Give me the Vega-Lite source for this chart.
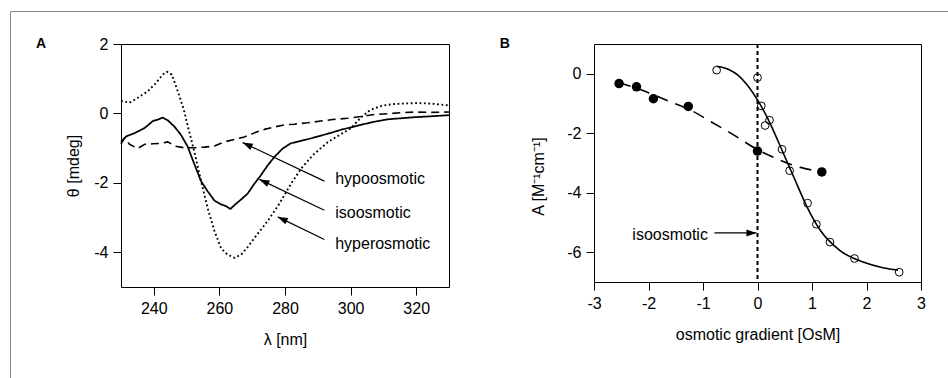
{
  "$schema": "https://vega.github.io/schema/vega-lite/v6.json",
  "background": "white",
  "padding": {"left": 9, "top": 10, "right": 0, "bottom": 0},
  "autosize": {"type": "pad"},
  "bounds": "flush",
  "spacing": 145,
  "config": {
    "font": "Liberation Sans",
    "view": {"stroke": "black", "strokeWidth": 1},
    "axis": {
      "domain": false, "grid": false, "ticks": true,
      "tickColor": "black", "tickSize": 8, "tickWidth": 1,
      "labelColor": "black", "labelFont": "Liberation Sans", "labelFontSize": 16, "labelPadding": 4,
      "labelFlush": false, "labelOverlap": false,
      "titleFont": "Liberation Sans", "titleFontSize": 16, "titleFontWeight": "normal", "titleColor": "black",
      "labelExpr": "datum.value < 0 ? '-' + abs(datum.value) : '' + datum.value"
    },
    "axisX": {"titlePadding": 15},
    "axisY": {"titlePadding": 12}
  },
  "datasets": {
    "spectra": [
      {"wavelength": 230, "theta": -0.82, "condition": "isoosmotic"},
      {"wavelength": 231.6, "theta": -0.66, "condition": "isoosmotic"},
      {"wavelength": 234.1, "theta": -0.57, "condition": "isoosmotic"},
      {"wavelength": 237.2, "theta": -0.42, "condition": "isoosmotic"},
      {"wavelength": 239.7, "theta": -0.22, "condition": "isoosmotic"},
      {"wavelength": 241.2, "theta": -0.18, "condition": "isoosmotic"},
      {"wavelength": 242.7, "theta": -0.12, "condition": "isoosmotic"},
      {"wavelength": 244.3, "theta": -0.20, "condition": "isoosmotic"},
      {"wavelength": 246.3, "theta": -0.38, "condition": "isoosmotic"},
      {"wavelength": 248.3, "theta": -0.62, "condition": "isoosmotic"},
      {"wavelength": 250.3, "theta": -0.95, "condition": "isoosmotic"},
      {"wavelength": 252.4, "theta": -1.47, "condition": "isoosmotic"},
      {"wavelength": 254.4, "theta": -1.95, "condition": "isoosmotic"},
      {"wavelength": 256.4, "theta": -2.24, "condition": "isoosmotic"},
      {"wavelength": 258.5, "theta": -2.51, "condition": "isoosmotic"},
      {"wavelength": 260.5, "theta": -2.62, "condition": "isoosmotic"},
      {"wavelength": 262.0, "theta": -2.67, "condition": "isoosmotic"},
      {"wavelength": 263.4, "theta": -2.75, "condition": "isoosmotic"},
      {"wavelength": 264.6, "theta": -2.64, "condition": "isoosmotic"},
      {"wavelength": 266.6, "theta": -2.48, "condition": "isoosmotic"},
      {"wavelength": 268.6, "theta": -2.31, "condition": "isoosmotic"},
      {"wavelength": 270.7, "theta": -2.02, "condition": "isoosmotic"},
      {"wavelength": 272.5, "theta": -1.80, "condition": "isoosmotic"},
      {"wavelength": 274.7, "theta": -1.50, "condition": "isoosmotic"},
      {"wavelength": 276.8, "theta": -1.25, "condition": "isoosmotic"},
      {"wavelength": 279.3, "theta": -1.01, "condition": "isoosmotic"},
      {"wavelength": 281.8, "theta": -0.86, "condition": "isoosmotic"},
      {"wavelength": 284.9, "theta": -0.79, "condition": "isoosmotic"},
      {"wavelength": 287.9, "theta": -0.72, "condition": "isoosmotic"},
      {"wavelength": 290.9, "theta": -0.64, "condition": "isoosmotic"},
      {"wavelength": 294.0, "theta": -0.56, "condition": "isoosmotic"},
      {"wavelength": 297.1, "theta": -0.47, "condition": "isoosmotic"},
      {"wavelength": 300.1, "theta": -0.40, "condition": "isoosmotic"},
      {"wavelength": 303.1, "theta": -0.33, "condition": "isoosmotic"},
      {"wavelength": 307.2, "theta": -0.24, "condition": "isoosmotic"},
      {"wavelength": 311.3, "theta": -0.17, "condition": "isoosmotic"},
      {"wavelength": 315.3, "theta": -0.14, "condition": "isoosmotic"},
      {"wavelength": 319.4, "theta": -0.11, "condition": "isoosmotic"},
      {"wavelength": 325, "theta": -0.08, "condition": "isoosmotic"},
      {"wavelength": 330, "theta": -0.05, "condition": "isoosmotic"},

      {"wavelength": 230, "theta": 0.36, "condition": "hyperosmotic"},
      {"wavelength": 232.6, "theta": 0.31, "condition": "hyperosmotic"},
      {"wavelength": 235.1, "theta": 0.45, "condition": "hyperosmotic"},
      {"wavelength": 238.2, "theta": 0.64, "condition": "hyperosmotic"},
      {"wavelength": 240.7, "theta": 0.88, "condition": "hyperosmotic"},
      {"wavelength": 242.7, "theta": 1.12, "condition": "hyperosmotic"},
      {"wavelength": 244.0, "theta": 1.20, "condition": "hyperosmotic"},
      {"wavelength": 245.5, "theta": 1.12, "condition": "hyperosmotic"},
      {"wavelength": 247.3, "theta": 0.64, "condition": "hyperosmotic"},
      {"wavelength": 249.0, "theta": 0.16, "condition": "hyperosmotic"},
      {"wavelength": 250.6, "theta": -0.45, "condition": "hyperosmotic"},
      {"wavelength": 252.4, "theta": -1.12, "condition": "hyperosmotic"},
      {"wavelength": 254.4, "theta": -1.95, "condition": "hyperosmotic"},
      {"wavelength": 256.4, "theta": -2.72, "condition": "hyperosmotic"},
      {"wavelength": 258.5, "theta": -3.39, "condition": "hyperosmotic"},
      {"wavelength": 260.5, "theta": -3.88, "condition": "hyperosmotic"},
      {"wavelength": 262.5, "theta": -4.07, "condition": "hyperosmotic"},
      {"wavelength": 264.6, "theta": -4.16, "condition": "hyperosmotic"},
      {"wavelength": 266.6, "theta": -4.07, "condition": "hyperosmotic"},
      {"wavelength": 268.6, "theta": -3.85, "condition": "hyperosmotic"},
      {"wavelength": 271.0, "theta": -3.55, "condition": "hyperosmotic"},
      {"wavelength": 274.7, "theta": -3.10, "condition": "hyperosmotic"},
      {"wavelength": 278.3, "theta": -2.60, "condition": "hyperosmotic"},
      {"wavelength": 281.8, "theta": -2.03, "condition": "hyperosmotic"},
      {"wavelength": 285.0, "theta": -1.58, "condition": "hyperosmotic"},
      {"wavelength": 288.5, "theta": -1.20, "condition": "hyperosmotic"},
      {"wavelength": 293.0, "theta": -0.83, "condition": "hyperosmotic"},
      {"wavelength": 297.0, "theta": -0.60, "condition": "hyperosmotic"},
      {"wavelength": 300.1, "theta": -0.43, "condition": "hyperosmotic"},
      {"wavelength": 303.1, "theta": -0.12, "condition": "hyperosmotic"},
      {"wavelength": 306.0, "theta": 0.10, "condition": "hyperosmotic"},
      {"wavelength": 309.5, "theta": 0.22, "condition": "hyperosmotic"},
      {"wavelength": 313.3, "theta": 0.27, "condition": "hyperosmotic"},
      {"wavelength": 317.4, "theta": 0.29, "condition": "hyperosmotic"},
      {"wavelength": 320.4, "theta": 0.30, "condition": "hyperosmotic"},
      {"wavelength": 325, "theta": 0.28, "condition": "hyperosmotic"},
      {"wavelength": 330, "theta": 0.23, "condition": "hyperosmotic"},

      {"wavelength": 230, "theta": -0.88, "condition": "hypoosmotic"},
      {"wavelength": 231.1, "theta": -0.70, "condition": "hypoosmotic"},
      {"wavelength": 232.6, "theta": -0.89, "condition": "hypoosmotic"},
      {"wavelength": 235.1, "theta": -1.01, "condition": "hypoosmotic"},
      {"wavelength": 237.2, "theta": -0.89, "condition": "hypoosmotic"},
      {"wavelength": 239.7, "theta": -0.875, "condition": "hypoosmotic"},
      {"wavelength": 242.2, "theta": -0.865, "condition": "hypoosmotic"},
      {"wavelength": 244.3, "theta": -0.82, "condition": "hypoosmotic"},
      {"wavelength": 246.3, "theta": -0.94, "condition": "hypoosmotic"},
      {"wavelength": 249.3, "theta": -0.99, "condition": "hypoosmotic"},
      {"wavelength": 252.4, "theta": -0.99, "condition": "hypoosmotic"},
      {"wavelength": 255.4, "theta": -0.97, "condition": "hypoosmotic"},
      {"wavelength": 258.5, "theta": -0.94, "condition": "hypoosmotic"},
      {"wavelength": 261.5, "theta": -0.82, "condition": "hypoosmotic"},
      {"wavelength": 264.6, "theta": -0.75, "condition": "hypoosmotic"},
      {"wavelength": 267.6, "theta": -0.68, "condition": "hypoosmotic"},
      {"wavelength": 270.7, "theta": -0.56, "condition": "hypoosmotic"},
      {"wavelength": 273.7, "theta": -0.46, "condition": "hypoosmotic"},
      {"wavelength": 276.8, "theta": -0.39, "condition": "hypoosmotic"},
      {"wavelength": 279.8, "theta": -0.33, "condition": "hypoosmotic"},
      {"wavelength": 282.8, "theta": -0.31, "condition": "hypoosmotic"},
      {"wavelength": 286.9, "theta": -0.27, "condition": "hypoosmotic"},
      {"wavelength": 290.9, "theta": -0.22, "condition": "hypoosmotic"},
      {"wavelength": 295.0, "theta": -0.17, "condition": "hypoosmotic"},
      {"wavelength": 299.1, "theta": -0.14, "condition": "hypoosmotic"},
      {"wavelength": 303.1, "theta": -0.09, "condition": "hypoosmotic"},
      {"wavelength": 307.2, "theta": -0.03, "condition": "hypoosmotic"},
      {"wavelength": 311.3, "theta": -0.01, "condition": "hypoosmotic"},
      {"wavelength": 315.3, "theta": 0.02, "condition": "hypoosmotic"},
      {"wavelength": 319.4, "theta": 0.04, "condition": "hypoosmotic"},
      {"wavelength": 324, "theta": 0.03, "condition": "hypoosmotic"},
      {"wavelength": 330, "theta": 0.04, "condition": "hypoosmotic"}
    ],
    "spectraLabels": [
      {"label": "hypoosmotic", "from_wl": 292.0, "from_theta": -1.95, "to_wl": 267.1, "to_theta": -0.84, "text_wl": 295.3, "text_theta": -2.04},
      {"label": "isoosmotic", "from_wl": 292.0, "from_theta": -2.79, "to_wl": 272.2, "to_theta": -1.90, "text_wl": 295.3, "text_theta": -3.02},
      {"label": "hyperosmotic", "from_wl": 292.0, "from_theta": -3.63, "to_wl": 277.8, "to_theta": -2.98, "text_wl": 295.3, "text_theta": -3.91}
    ],
    "filledPoints": [
      {"gradient": -2.54, "A": -0.33},
      {"gradient": -2.22, "A": -0.44},
      {"gradient": -1.91, "A": -0.84},
      {"gradient": -1.27, "A": -1.10},
      {"gradient": 0.0, "A": -2.60},
      {"gradient": 1.18, "A": -3.30}
    ],
    "openPoints": [
      {"gradient": -0.75, "A": 0.12},
      {"gradient": 0.0, "A": -0.13},
      {"gradient": 0.07, "A": -1.08},
      {"gradient": 0.14, "A": -1.74},
      {"gradient": 0.22, "A": -1.56},
      {"gradient": 0.45, "A": -2.54},
      {"gradient": 0.59, "A": -3.26},
      {"gradient": 0.92, "A": -4.35},
      {"gradient": 1.08, "A": -5.06},
      {"gradient": 1.33, "A": -5.66},
      {"gradient": 1.78, "A": -6.21},
      {"gradient": 2.60, "A": -6.67}
    ],
    "fitFilled": [
      {"gradient": -2.54, "A": -0.30},
      {"gradient": -2.14, "A": -0.54},
      {"gradient": -1.59, "A": -0.95},
      {"gradient": -1.23, "A": -1.22},
      {"gradient": -0.83, "A": -1.64},
      {"gradient": -0.46, "A": -2.03},
      {"gradient": 0.0, "A": -2.55},
      {"gradient": 0.27, "A": -2.79},
      {"gradient": 0.6, "A": -3.04},
      {"gradient": 1.18, "A": -3.30}
    ],
    "fitOpen": [
      {"gradient": -0.75, "A": 0.25},
      {"gradient": -0.5, "A": 0.12},
      {"gradient": -0.37, "A": -0.03},
      {"gradient": -0.2, "A": -0.35},
      {"gradient": 0.0, "A": -0.88},
      {"gradient": 0.2, "A": -1.55},
      {"gradient": 0.45, "A": -2.57},
      {"gradient": 0.665, "A": -3.47},
      {"gradient": 0.91, "A": -4.48},
      {"gradient": 1.155, "A": -5.27},
      {"gradient": 1.52, "A": -5.95},
      {"gradient": 1.95, "A": -6.34},
      {"gradient": 2.3, "A": -6.52},
      {"gradient": 2.58, "A": -6.60}
    ],
    "gradientLabel": [
      {"label": "isoosmotic", "from_g": -0.79, "to_g": -0.02, "A": -5.35, "text_g": -0.91, "text_A": -5.58}
    ]
  },
  "hconcat": [
    {
      "width": 328,
      "height": 243,
      "layer": [
        {
          "data": {"values": [{}]},
          "mark": {"type": "rule", "color": "#8a8a8a", "strokeWidth": 1, "clip": false},
          "encoding": {
            "x": {"datum": 196.31, "type": "quantitative", "scale": {"domain": [230, 330], "nice": false, "zero": false}, "title": "λ [nm]"},
            "y": {"datum": 2.936, "type": "quantitative", "scale": {"domain": [-5, 2], "nice": false, "zero": false}, "title": "θ [mdeg]"},
            "y2": {"datum": -7.637}
          }
        },
        {
          "data": {"values": [{}]},
          "mark": {"type": "rule", "color": "#8a8a8a", "strokeWidth": 1, "clip": false},
          "encoding": {
            "x": {"datum": 196.31, "type": "quantitative", "scale": {"domain": [230, 330], "nice": false, "zero": false}, "title": "λ [nm]"},
            "x2": {"datum": 482.29},
            "y": {"datum": 2.936, "type": "quantitative", "scale": {"domain": [-5, 2], "nice": false, "zero": false}, "title": "θ [mdeg]"}
          }
        },
        {
          "data": {"values": [{"panel": "A"}]},
          "mark": {"type": "text", "align": "left", "baseline": "alphabetic", "font": "Liberation Sans", "fontSize": 14, "fontWeight": "bold", "color": "black", "clip": false},
          "encoding": {
            "x": {"datum": 204.1, "type": "quantitative", "scale": {"domain": [230, 330], "nice": false, "zero": false}, "title": "λ [nm]"},
            "y": {"datum": 1.885, "type": "quantitative", "scale": {"domain": [-5, 2], "nice": false, "zero": false}, "title": "θ [mdeg]"},
            "text": {"field": "panel"}
          }
        },
        {
          "data": {"name": "spectra"},
          "mark": {"type": "line", "color": "black", "strokeCap": "butt", "strokeJoin": "round"},
          "encoding": {
            "x": {"field": "wavelength", "type": "quantitative", "scale": {"domain": [230, 330], "nice": false, "zero": false}, "title": "λ [nm]", "axis": {"values": [240, 260, 280, 300, 320], "labelPadding": 5}},
            "y": {"field": "theta", "type": "quantitative", "scale": {"domain": [-5, 2], "nice": false, "zero": false}, "title": "θ [mdeg]", "axis": {"values": [2, 0, -2, -4], "labelPadding": 5}},
            "strokeDash": {"field": "condition", "type": "nominal", "scale": {"domain": ["hypoosmotic", "isoosmotic", "hyperosmotic"], "range": [[8, 5], [1, 0], [1.8, 2.6]]}, "legend": null},
            "strokeWidth": {"field": "condition", "type": "nominal", "scale": {"domain": ["hypoosmotic", "isoosmotic", "hyperosmotic"], "range": [1.6, 1.9, 1.4]}, "legend": null}
          }
        },
        {
          "data": {"name": "spectraLabels"},
          "mark": {"type": "rule", "color": "black", "strokeWidth": 1.2},
          "encoding": {
            "x": {"field": "from_wl", "type": "quantitative", "scale": {"domain": [230, 330], "nice": false, "zero": false}, "title": "λ [nm]"},
            "y": {"field": "from_theta", "type": "quantitative", "scale": {"domain": [-5, 2], "nice": false, "zero": false}, "title": "θ [mdeg]"},
            "x2": {"field": "to_wl"},
            "y2": {"field": "to_theta"}
          }
        },
        {
          "data": {"name": "spectraLabels"},
          "mark": {"type": "point", "shape": "M0,0L-2,-0.7L-2,0.7Z", "filled": true, "color": "black", "opacity": 1, "size": 100, "angle": 205},
          "encoding": {
            "x": {"field": "to_wl", "type": "quantitative", "scale": {"domain": [230, 330], "nice": false, "zero": false}, "title": "λ [nm]"},
            "y": {"field": "to_theta", "type": "quantitative", "scale": {"domain": [-5, 2], "nice": false, "zero": false}, "title": "θ [mdeg]"}
          }
        },
        {
          "data": {"name": "spectraLabels"},
          "mark": {"type": "text", "align": "left", "baseline": "alphabetic", "font": "Liberation Sans", "fontSize": 16, "color": "black"},
          "encoding": {
            "x": {"field": "text_wl", "type": "quantitative", "scale": {"domain": [230, 330], "nice": false, "zero": false}, "title": "λ [nm]"},
            "y": {"field": "text_theta", "type": "quantitative", "scale": {"domain": [-5, 2], "nice": false, "zero": false}, "title": "θ [mdeg]"},
            "text": {"field": "label"}
          }
        }
      ]
    },
    {
      "width": 327,
      "height": 238,
      "layer": [
        {
          "data": {"values": [{}]},
          "mark": {"type": "rule", "color": "black", "strokeWidth": 2, "strokeDash": [4, 3]},
          "encoding": {
            "x": {"datum": 0, "type": "quantitative", "scale": {"domain": [-3, 3], "nice": false, "zero": false}, "title": "osmotic gradient [OsM]", "axis": {"values": [-3, -2, -1, 0, 1, 2, 3], "labelPadding": 5}}
          }
        },
        {
          "data": {"values": [{"panel": "B"}]},
          "mark": {"type": "text", "align": "left", "baseline": "alphabetic", "font": "Liberation Sans", "fontSize": 14, "fontWeight": "bold", "color": "black", "clip": false},
          "encoding": {
            "x": {"datum": -4.73, "type": "quantitative", "scale": {"domain": [-3, 3], "nice": false, "zero": false}, "title": "osmotic gradient [OsM]"},
            "y": {"datum": 0.866, "type": "quantitative", "scale": {"domain": [-7, 1], "nice": false, "zero": false}, "title": "A [M⁻¹cm⁻¹]"},
            "text": {"field": "panel"}
          }
        },
        {
          "data": {"name": "fitFilled"},
          "mark": {"type": "line", "color": "black", "strokeWidth": 1.6, "strokeDash": [12, 8], "interpolate": "monotone"},
          "encoding": {
            "x": {"field": "gradient", "type": "quantitative", "scale": {"domain": [-3, 3], "nice": false, "zero": false}, "title": "osmotic gradient [OsM]"},
            "y": {"field": "A", "type": "quantitative", "scale": {"domain": [-7, 1], "nice": false, "zero": false}, "title": "A [M⁻¹cm⁻¹]", "axis": {"values": [0, -2, -4, -6], "labelPadding": 5, "titlePadding": 20, "titleY": 132}}
          }
        },
        {
          "data": {"name": "fitOpen"},
          "mark": {"type": "line", "color": "black", "strokeWidth": 1.6, "interpolate": "monotone"},
          "encoding": {
            "x": {"field": "gradient", "type": "quantitative", "scale": {"domain": [-3, 3], "nice": false, "zero": false}, "title": "osmotic gradient [OsM]"},
            "y": {"field": "A", "type": "quantitative", "scale": {"domain": [-7, 1], "nice": false, "zero": false}, "title": "A [M⁻¹cm⁻¹]"}
          }
        },
        {
          "data": {"name": "openPoints"},
          "mark": {"type": "point", "shape": "circle", "filled": false, "color": "black", "strokeWidth": 1, "size": 60, "opacity": 1},
          "encoding": {
            "x": {"field": "gradient", "type": "quantitative", "scale": {"domain": [-3, 3], "nice": false, "zero": false}, "title": "osmotic gradient [OsM]"},
            "y": {"field": "A", "type": "quantitative", "scale": {"domain": [-7, 1], "nice": false, "zero": false}, "title": "A [M⁻¹cm⁻¹]"}
          }
        },
        {
          "data": {"name": "filledPoints"},
          "mark": {"type": "point", "shape": "circle", "filled": true, "color": "black", "size": 90, "opacity": 1},
          "encoding": {
            "x": {"field": "gradient", "type": "quantitative", "scale": {"domain": [-3, 3], "nice": false, "zero": false}, "title": "osmotic gradient [OsM]"},
            "y": {"field": "A", "type": "quantitative", "scale": {"domain": [-7, 1], "nice": false, "zero": false}, "title": "A [M⁻¹cm⁻¹]"}
          }
        },
        {
          "data": {"name": "gradientLabel"},
          "mark": {"type": "rule", "color": "black", "strokeWidth": 1.2},
          "encoding": {
            "x": {"field": "from_g", "type": "quantitative", "scale": {"domain": [-3, 3], "nice": false, "zero": false}, "title": "osmotic gradient [OsM]"},
            "x2": {"field": "to_g"},
            "y": {"field": "A", "type": "quantitative", "scale": {"domain": [-7, 1], "nice": false, "zero": false}, "title": "A [M⁻¹cm⁻¹]"}
          }
        },
        {
          "data": {"name": "gradientLabel"},
          "mark": {"type": "point", "shape": "M0,0L-2,-0.7L-2,0.7Z", "filled": true, "color": "black", "opacity": 1, "size": 100, "angle": 0},
          "encoding": {
            "x": {"field": "to_g", "type": "quantitative", "scale": {"domain": [-3, 3], "nice": false, "zero": false}, "title": "osmotic gradient [OsM]"},
            "y": {"field": "A", "type": "quantitative", "scale": {"domain": [-7, 1], "nice": false, "zero": false}, "title": "A [M⁻¹cm⁻¹]"}
          }
        },
        {
          "data": {"name": "gradientLabel"},
          "mark": {"type": "text", "align": "right", "baseline": "alphabetic", "font": "Liberation Sans", "fontSize": 16, "color": "black"},
          "encoding": {
            "x": {"field": "text_g", "type": "quantitative", "scale": {"domain": [-3, 3], "nice": false, "zero": false}, "title": "osmotic gradient [OsM]"},
            "y": {"field": "text_A", "type": "quantitative", "scale": {"domain": [-7, 1], "nice": false, "zero": false}, "title": "A [M⁻¹cm⁻¹]"},
            "text": {"field": "label"}
          }
        }
      ]
    }
  ]
}
